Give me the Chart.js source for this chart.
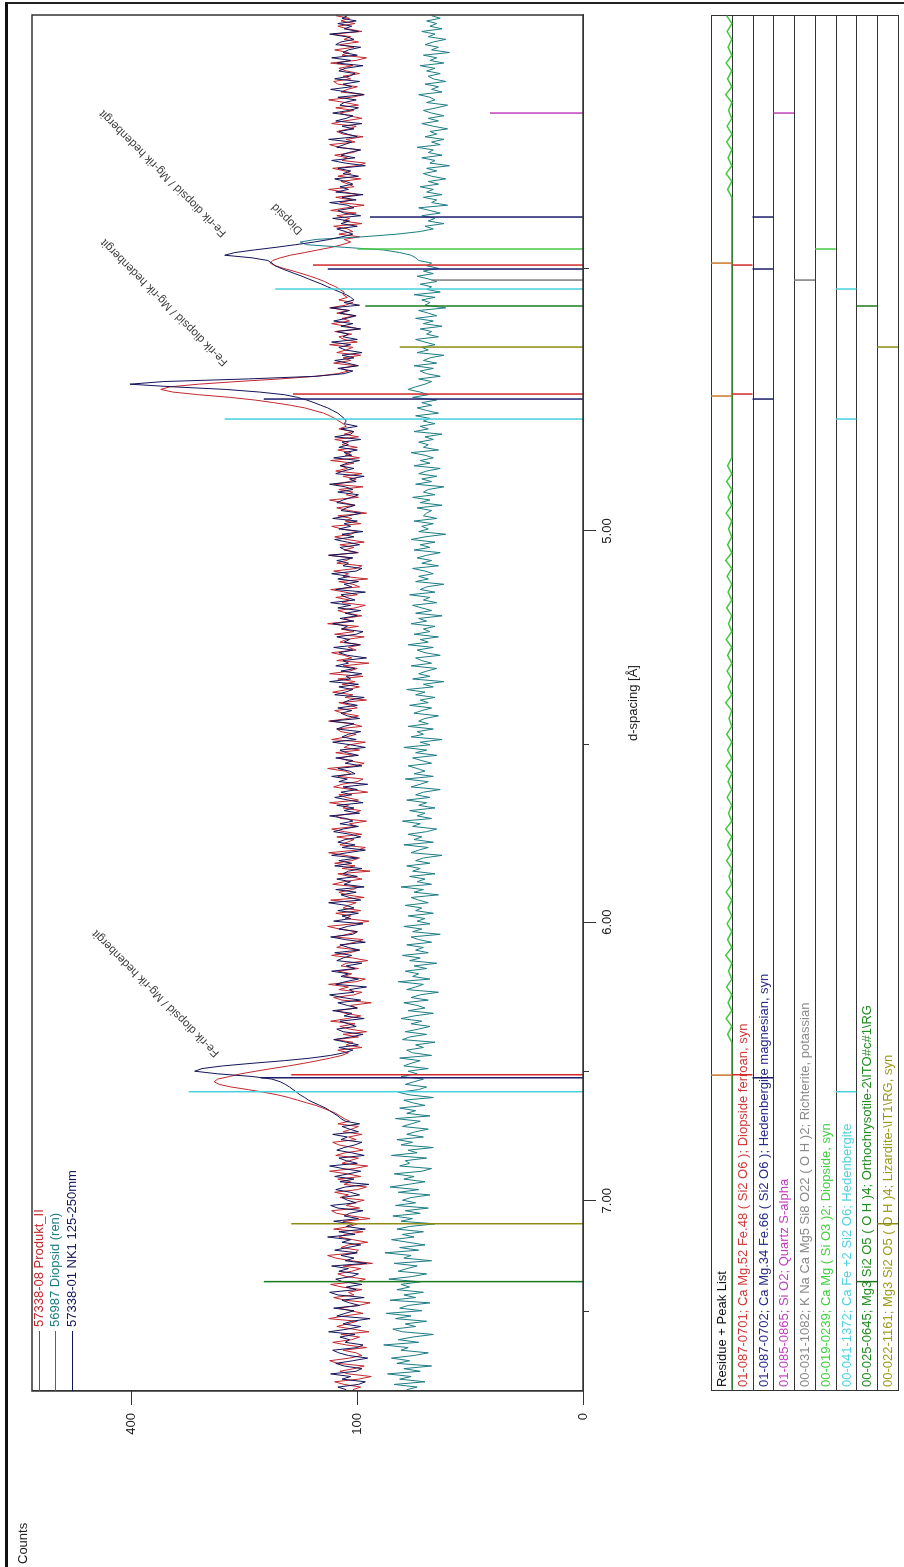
<!DOCTYPE html>
<html>
<head>
<meta charset="utf-8">
<title>XRD Diopsid</title>
<script src="https://cdn.jsdelivr.net/npm/chart.js@4.4.1/dist/chart.umd.min.js"></script>
<style>
  html, body { margin: 0; padding: 0; background: #fff; }
  body { width: 904px; height: 1567px; position: relative; overflow: hidden; }
  #frame { position: absolute; left: 5px; top: 2px; width: 940px; height: 1600px;
           border-left: 3px solid #111; border-top: 2px solid #222; }
  /* the whole plot is laid out landscape and then turned a quarter */
  #land { position: absolute; left: 0; top: 0; width: 1567px; height: 904px;
          transform-origin: 0 0; transform: translate(0, 1567px) rotate(-90deg); }
  #mainChart { position: absolute; left: 0; top: 0; }
  #peakChart { position: absolute; left: 0; top: 700px; }
</style>
</head>
<body>
<div id="frame"></div>
<div id="land">
  <canvas id="mainChart" width="1567" height="700"></canvas>
  <canvas id="peakChart" width="1567" height="204"></canvas>
</div>
<script>
// Cu K-alpha1, used to place the d-spacing ticks on the 2theta axis
const lambda = 1.5406;
const twoTheta = d => 2 * Math.asin(lambda / (2 * d)) * 180 / Math.PI;

const thetaMin = 11.19, thetaMax = 21.645;
const thetaStart = 11.20, thetaStep = 0.02;

const seriesNames = ['57338-08 Produkt_II', '56987 Diopsid (ren)', '57338-01 NK1 125-250mm'];
const seriesColors = ['#c0282e', '#1d7c84', '#14145a'];

const produktII = [
  104, 97, 112, 121, 99, 88, 108, 116, 103, 94, 118, 126, 107, 96, 101, 113, 92, 110, 123, 105,
  98, 115, 90, 104, 119, 109, 100, 127, 112, 95, 106, 117, 99, 89, 111, 122, 103, 108, 96, 114,
  125, 101, 93, 110, 118, 105, 97, 113, 87, 106, 120, 128, 102, 99, 115, 108, 91, 104, 117, 111,
  95, 122, 107, 100, 113, 89, 105, 119, 124, 98, 110, 103, 94, 116, 108, 121, 100, 92, 112, 106,
  118, 97, 109, 126, 103, 91, 114, 107, 99, 120, 111, 95, 104, 117, 123, 101, 108, 96, 113, 105,
  99, 118, 107, 112, 116, 120, 126, 133, 140, 150, 160, 170, 183, 200, 220, 243, 260, 267, 262, 245,
  230, 210, 190, 170, 153, 138, 125, 114, 108, 118, 96, 110, 104, 121, 99, 113, 92, 107, 116, 102,
  125, 109, 97, 111, 119, 100, 106, 88, 114, 122, 103, 96, 117, 108, 127, 101, 93, 112, 105, 118,
  99, 115, 110, 91, 104, 124, 107, 98, 119, 113, 102, 95, 121, 109, 100, 116, 128, 103, 90, 111,
  106, 120, 97, 113, 108, 101, 125, 94, 110, 117, 104, 99, 123, 112, 96, 107, 118, 89, 114, 102,
  121, 105, 98, 111, 127, 100, 93, 116, 109, 103, 119, 96, 112, 124, 101, 107, 92, 115, 120, 104,
  97, 113, 108, 126, 99, 110, 117, 91, 105, 122, 114, 100, 95, 118, 106, 111, 128, 102, 94, 109,
  116, 103, 120, 98, 112, 107, 93, 124, 110, 101, 115, 119, 96, 105, 127, 108, 99, 113, 121, 100,
  106, 117, 92, 111, 104, 123, 109, 98, 114, 102, 118, 95, 126, 107, 100, 113, 90, 119, 105, 112,
  124, 101, 108, 97, 116, 110, 94, 121, 103, 115, 99, 128, 106, 112, 96, 109, 118, 102, 93, 114,
  107, 120, 100, 111, 125, 98, 104, 117, 91, 113, 108, 122, 101, 96, 119, 110, 105, 127, 99, 112,
  103, 116, 94, 109, 121, 106, 100, 114, 124, 97, 111, 105, 118, 92, 108, 119, 102, 113, 126, 99,
  110, 104, 117, 95, 122, 107, 101, 113, 96, 120, 109, 115, 103, 125, 98, 111, 106, 118, 100, 114,
  108, 121, 99, 112, 104, 117, 110, 113, 117, 121, 126, 132, 142, 152, 168, 188, 212, 245, 290, 330,
  350, 335, 290, 235, 180, 140, 118, 108, 115, 101, 122, 106, 113, 97, 119, 110, 104, 126, 100, 112,
  117, 105, 121, 98, 110, 124, 107, 114, 102, 119, 108, 126, 111, 104, 117, 109, 113, 112, 116, 120,
  126, 131, 138, 146, 155, 165, 176, 186, 192, 189, 180, 168, 152, 138, 124, 114, 106, 112, 98, 117,
  104, 109, 122, 96, 113, 107, 119, 101, 125, 110, 94, 116, 105, 120, 99, 112, 127, 103, 108, 115,
  97, 118, 106, 111, 123, 100, 93, 114, 109, 121, 104, 98, 117, 126, 102, 110, 95, 113, 119, 107,
  101, 124, 112, 96, 108, 116, 103, 120, 99, 111, 127, 105, 94, 115, 109, 100, 118, 122, 106, 113,
  98, 110, 117, 104, 125, 101, 92, 114, 108, 121, 103, 116, 99, 112, 106, 123, 96, 109, 118, 102,
  115, 107, 120
];

const diopsidRen = [
  61, 54, 70, 49, 66, 58, 75, 52, 63, 45, 68, 59, 72, 56, 47, 65, 60, 78, 53, 67,
  57, 44, 64, 71, 55, 62, 48, 69, 58, 76, 51, 66, 60, 46, 73, 55, 63, 50, 68, 59,
  65, 52, 74, 57, 48, 67, 61, 54, 70, 45, 63, 58, 77, 53, 66, 49, 60, 72, 56, 64,
  50, 68, 59, 43, 65, 57, 71, 52, 62, 47, 69, 55, 64, 58, 46, 67, 53, 73, 60, 49,
  63, 56, 70, 51, 45, 66, 59, 62, 48, 72, 54, 60, 44, 65, 57, 68, 50, 61, 55, 47,
  64, 58, 52, 69, 46, 61, 55, 66, 49, 57, 63, 44, 59, 67, 53, 48, 62, 56, 50, 65,
  54, 60, 47, 63, 58, 52, 66, 45, 57, 61, 50, 55, 43, 64, 59, 48, 62, 53, 46, 58,
  51, 65, 56, 44, 60, 49, 54, 63, 47, 58, 52, 41, 61, 55, 50, 67, 46, 57, 53, 62,
  48, 56, 42, 59, 52, 64, 47, 55, 50, 61, 45, 53, 58, 40, 57, 51, 63, 46, 54, 49,
  60, 44, 55, 51, 62, 47, 53, 58, 41, 56, 50, 65, 45, 54, 49, 59, 43, 57, 52, 61,
  46, 55, 50, 39, 58, 53, 47, 63, 44, 56, 51, 60, 48, 42, 57, 52, 64, 45, 54, 49,
  59, 43, 53, 48, 61, 46, 55, 50, 40, 58, 52, 47, 62, 44, 56, 49, 54, 60, 45, 51,
  57, 42, 55, 48, 63, 46, 52, 39, 58, 50, 54, 44, 60, 47, 53, 49, 41, 56, 51, 45,
  59, 47, 52, 43, 55, 49, 61, 44, 50, 38, 57, 46, 53, 48, 42, 58, 45, 51, 55, 40,
  49, 54, 44, 60, 47, 52, 41, 56, 46, 50, 43, 58, 48, 53, 39, 55, 45, 51, 57, 42,
  50, 46, 59, 43, 52, 48, 38, 55, 47, 53, 44, 49, 57, 41, 51, 45, 54, 48, 40, 56,
  46, 52, 43, 58, 49, 37, 53, 47, 51, 44, 56, 42, 50, 48, 45, 54, 39, 52, 46, 57,
  43, 50, 47, 38, 55, 45, 51, 42, 53, 48, 40, 56, 46, 52, 44, 49, 58, 41, 50, 47,
  53, 44, 49, 39, 56, 47, 52, 43, 50, 46, 55, 41, 48, 54, 45, 51, 42, 57, 47, 52,
  60, 55, 49, 45, 53, 40, 48, 52, 44, 56, 42, 50, 46, 38, 54, 47, 51, 43, 49, 55,
  41, 48, 45, 52, 39, 50, 44, 55, 42, 47, 53, 37, 49, 46, 51, 43, 56, 40, 48, 45,
  52, 42, 47, 54, 44, 50, 41, 48, 45, 53, 55, 58, 66, 78, 112, 150, 157, 140, 95, 68,
  52, 44, 49, 38, 47, 43, 51, 40, 46, 53, 36, 45, 42, 50, 39, 48, 44, 52, 41, 47,
  37, 45, 50, 42, 48, 35, 46, 43, 51, 39, 47, 44, 54, 40, 45, 38, 49, 42, 46, 36,
  44, 51, 41, 47, 38, 45, 50, 42, 36, 48, 43, 46, 53, 39, 45, 41, 49, 37, 44, 47,
  40, 48, 43, 52, 38, 46, 42, 50, 35, 45, 41, 49, 44, 37, 47, 43, 51, 39, 46, 42,
  48, 40, 45
];

const nk1 = [
  110, 118, 99, 93, 114, 106, 125, 101, 96, 112, 120, 104, 91, 108, 117, 123, 100, 95, 111, 107,
  116, 102, 127, 109, 97, 113, 105, 89, 119, 111, 103, 122, 98, 107, 114, 94, 118, 126, 101, 110,
  96, 113, 120, 105, 99, 117, 108, 124, 92, 111, 103, 115, 100, 121, 109, 97, 114, 106, 128, 102,
  117, 93, 110, 104, 122, 99, 112, 107, 95, 118, 125, 101, 109, 114, 98, 106, 120, 111, 90, 116,
  103, 121, 108, 97, 113, 126, 100, 110, 117, 94, 105, 119, 112, 102, 96, 115, 109, 123, 99, 107,
  114, 98, 111, 115, 118, 122, 126, 130, 136, 142, 148, 152, 157, 161, 165, 169, 174, 180, 190, 215,
  262, 296, 285, 255, 215, 175, 145, 125, 112, 104, 117, 99, 110, 122, 106, 95, 113, 119, 101, 108,
  116, 94, 112, 105, 123, 100, 109, 118, 97, 114, 126, 103, 107, 92, 120, 111, 99, 115, 108, 124,
  102, 110, 96, 119, 113, 105, 121, 98, 108, 116, 93, 111, 125, 104, 100, 117, 109, 95, 122, 106,
  114, 99, 118, 103, 110, 127, 97, 107, 115, 101, 120, 94, 112, 106, 119, 100, 113, 108, 96, 121,
  105, 117, 100, 124, 109, 93, 114, 102, 118, 111, 97, 106, 122, 113, 99, 116, 104, 110, 126, 98,
  112, 103, 119, 95, 108, 121, 105, 115, 100, 113, 91, 117, 109, 124, 102, 107, 118, 96, 111, 104,
  120, 99, 110, 116, 93, 106, 123, 101, 114, 108, 97, 119, 112, 103, 125, 98, 109, 115, 105, 118,
  100, 113, 107, 94, 121, 111, 104, 117, 99, 126, 106, 110, 96, 115, 102, 120, 108, 113, 92, 109,
  117, 104, 122, 98, 112, 107, 119, 101, 95, 114, 109, 123, 103, 116, 100, 111, 97, 118, 106, 125,
  102, 110, 115, 93, 120, 105, 112, 99, 118, 107, 124, 101, 96, 113, 108, 119, 104, 127, 100, 111,
  116, 98, 109, 121, 103, 114, 95, 117, 106, 112, 100, 123, 108, 97, 115, 110, 102, 119, 113, 105,
  99, 118, 104, 111, 126, 101, 107, 94, 120, 113, 103, 116, 109, 98, 122, 105, 112, 100, 117, 108,
  114, 97, 121, 106, 103, 115, 100, 112, 110, 112, 115, 118, 123, 128, 135, 142, 150, 160, 175, 205,
  250, 330, 403, 345, 220, 140, 112, 104, 118, 99, 109, 121, 103, 114, 96, 111, 117, 106, 124, 100,
  113, 108, 119, 97, 115, 104, 122, 110, 101, 116, 107, 125, 98, 112, 103, 106, 110, 116, 122, 128,
  134, 141, 148, 155, 163, 171, 179, 186, 190, 195, 215, 252, 238, 212, 185, 162, 142, 126, 114, 104,
  111, 119, 100, 115, 107, 123, 97, 112, 118, 103, 109, 126, 101, 114, 95, 120, 108, 116, 104, 110,
  121, 99, 113, 106, 118, 93, 111, 124, 102, 115, 108, 97, 119, 112, 105, 127, 100, 109, 117, 103,
  114, 96, 120, 110, 104, 123, 107, 99, 116, 112, 101, 118, 94, 109, 125, 105, 113, 98, 121, 107,
  102, 117, 111, 95, 119, 106, 124, 100, 113, 108, 97, 120, 115, 103, 110, 126, 99, 112, 105, 118,
  101, 114, 109
];

const countTicks = [0, 100, 400];
const countMax = 596;
const dTicks = [7.5, 7.0, 6.5, 6.0, 5.5, 5.0, 4.5];
const dTickLabels = ['', '7.00', '', '6.00', '', '5.00', ''];

// reference patterns: label, colour, stick positions (2theta) and heights (counts)
const phaseNames = [
  '01-087-0701; Ca Mg.52 Fe.48 ( Si2 O6 ); Diopside ferroan, syn',
  '01-087-0702; Ca Mg.34 Fe.66 ( Si2 O6 ); Hedenbergite magnesian, syn',
  '01-085-0865; Si O2; Quartz S-alpha',
  '00-031-1082; K Na Ca Mg5 Si8 O22 ( O H )2; Richterite, potassian',
  '00-019-0239; Ca Mg ( Si O3 )2; Diopside, syn',
  '00-041-1372; Ca Fe +2 Si2 O6; Hedenbergite',
  '00-025-0645; Mg3 Si2 O5 ( O H )4; Orthochrysotile-2\\ITO#c#1\\RG',
  '00-022-1161; Mg3 Si2 O5 ( O H )4; Lizardite-\\IT1\\RG, syn'
];
const phaseColors = ['#d02a2a', '#1c1c6e', '#c040c0', '#7a7a7a', '#45c845', '#48d0dc', '#1f7a1f', '#8c8c14'];
const phaseTextColors = ['#d03a3a', '#2a2a8a', '#c23fc2', '#8a8a8a', '#3fcf3f', '#4fd3e0', '#228b22', '#9a9a1a'];
const phaseTheta = [
  [13.593, 18.765, 19.745],
  [13.570, 18.727, 19.715, 20.110],
  [20.900],
  [19.631],
  [19.867],
  [13.464, 18.575, 19.563],
  [12.021, 19.434],
  [12.461, 19.122]
];
const phaseHeight = [
  [167, 165, 143],
  [204, 200, 128, 89],
  [17],
  [45],
  [100],
  [305, 252, 186],
  [200, 93],
  [167, 66]
];

const peakListTheta = [13.59, 18.75, 19.76];
const peakListColor = '#c8782a';

const residueStart = 11.20, residueStep = 0.06;
const residue = [
  0, 0, 0, 0, 0, 0, 0, 0, 0, 0, 0, 0, 0, 0, 0, 0, 0, 0, 0, 0, 0, 0, 0, 0, 0,
  0, 0, 0, 0, 0, 0, 0, 0, 0, 0, 0, 0, 0, 0, 0, 0, 0, 0, 0, 0, 9, 0, 12, 0, 8,
  0, 11, 0, 7, 0, 13, 0, 9, 0, 10, 0, 8, 0, 12, 0, 6, 0, 11, 0, 9, 0, 13, 0, 7, 0,
  10, 0, 8, 0, 12, 0, 9, 0, 11, 0, 6, 0, 13, 0, 8, 0, 10, 0, 9, 0, 12, 0, 7, 0, 11,
  0, 8, 0, 10, 0, 13, 0, 9, 0, 7, 0, 12, 0, 8, 0, 11, 0, 9, 0, 0, 0, 0, 0, 0, 0,
  0, 0, 0, 0, 0, 0, 0, 0, 0, 0, 0, 0, 0, 0, 0, 0, 0, 0, 0, 0, 0, 0, 0, 0, 0,
  0, 0, 9, 0, 12, 0, 8, 0, 11, 0, 10, 0, 7, 0, 13, 0, 9, 0, 12, 0, 8, 0, 10, 0, 11
];

const annoText = [
  'Fe-rik diopsid / Mg-rik hedenbergit',
  'Fe-rik diopsid / Mg-rik hedenbergit',
  'Fe-rik diopsid / Mg-rik hedenbergit',
  'Diopsid'
];
const annoTheta = [13.76, 19.01, 19.99, 20.01];
const annoCounts = [259, 247, 249, 154];

const FONT = '"Liberation Sans", Arial, sans-serif';
Chart.defaults.font.family = FONT;

// square-root intensity axis
class SqrtScale extends Chart.LinearScale {
  static id = 'sqrt';
  static defaults = {};
  getPixelForValue(value) {
    const lo = Math.sqrt(this.min), hi = Math.sqrt(this.max);
    return this.getPixelForDecimal((Math.sqrt(Math.max(0, value)) - lo) / (hi - lo));
  }
  getValueForPixel(pixel) {
    const lo = Math.sqrt(this.min), hi = Math.sqrt(this.max);
    const s = lo + this.getDecimalForPixel(pixel) * (hi - lo);
    return s * s;
  }
}
Chart.register(SqrtScale);

const toXY = arr => arr.map((c, i) => ({ x: thetaStart + i * thetaStep, y: c }));

function stickData(thetas, heights) {
  const pts = [];
  thetas.forEach((t, k) => pts.push({ x: t, y: 0 }, { x: t, y: heights[k] }, { x: t, y: null }));
  return pts;
}

const curves = [produktII, diopsidRen, nk1];
const curveOrder = [3, 2, 1];

const datasets = [];
phaseTheta.forEach((th, p) => {
  datasets.push({
    data: stickData(th, phaseHeight[p]),
    borderColor: phaseColors[p], borderWidth: 1.5, spanGaps: false, order: 0
  });
});
curves.forEach((c, s) => {
  datasets.push({
    label: seriesNames[s], data: toXY(c),
    borderColor: seriesColors[s], borderWidth: 1, borderJoinStyle: 'round', order: curveOrder[s]
  });
});

const mainDecor = {
  id: 'mainDecor',
  afterDraw(chart) {
    const { ctx, chartArea: a, scales: { x, y } } = chart;
    ctx.save();
    ctx.strokeStyle = '#333';
    ctx.lineWidth = 1.5;
    ctx.strokeRect(a.left, a.top, a.right - a.left, a.bottom - a.top);

    // short unlabelled ticks
    ctx.lineWidth = 1;
    dTicks.forEach((d, i) => {
      if (dTickLabels[i]) return;
      const px = Math.round(x.getPixelForValue(twoTheta(d))) + 0.5;
      ctx.beginPath();
      ctx.moveTo(px, a.bottom);
      ctx.lineTo(px, a.bottom + 6);
      ctx.stroke();
    });

    // legend in the upper left corner of the plot
    ctx.font = '13px ' + FONT;
    ctx.textBaseline = 'middle';
    const rows = [a.top + 7, a.top + 23, a.top + 40];
    seriesNames.forEach((n, i) => {
      ctx.strokeStyle = seriesColors[i];
      ctx.beginPath();
      ctx.moveTo(a.left, rows[i] + 0.5);
      ctx.lineTo(a.left + 60, rows[i] + 0.5);
      ctx.stroke();
      ctx.fillStyle = seriesColors[i];
      ctx.fillText(n, a.left + 64, rows[i]);
    });

    // peak labels
    ctx.font = '11.5px ' + FONT;
    ctx.fillStyle = '#3a3a3a';
    ctx.textBaseline = 'alphabetic';
    annoText.forEach((t, i) => {
      ctx.save();
      ctx.translate(x.getPixelForValue(annoTheta[i]), y.getPixelForValue(annoCounts[i]));
      ctx.rotate(-Math.PI / 4);
      ctx.fillText(t, 0, 0);
      ctx.restore();
    });

    ctx.font = '13px ' + FONT;
    ctx.fillStyle = '#222';
    ctx.textBaseline = 'middle';
    ctx.fillText('Counts', 3, 23);
    ctx.restore();
  }
};

new Chart(document.getElementById('mainChart'), {
  type: 'line',
  data: { datasets },
  options: {
    responsive: false,
    animation: false,
    events: [],
    layout: { padding: { left: 0, right: 15, top: 32, bottom: 0 } },
    elements: { point: { radius: 0 }, line: { tension: 0 } },
    plugins: { legend: { display: false }, tooltip: { enabled: false } },
    scales: {
      x: {
        type: 'linear', min: thetaMin, max: thetaMax,
        afterBuildTicks: s => { s.ticks = dTicks.map(d => ({ value: twoTheta(d) })); },
        afterFit: s => { s.height = 117; },
        ticks: {
          autoSkip: false, maxRotation: 0, minRotation: 0, padding: 4,
          color: '#222', font: { size: 13 },
          callback: (v, i) => dTickLabels[i]
        },
        grid: {
          drawOnChartArea: false, tickLength: 13, tickWidth: 1,
          tickColor: c => dTickLabels[c.index] ? '#333' : 'rgba(0,0,0,0)'
        },
        border: { color: '#333', width: 1 },
        title: { display: true, text: 'd-spacing [Å]', color: '#222', font: { size: 13 }, padding: { top: 0, bottom: 59 } }
      },
      y: {
        type: 'sqrt', min: 0, max: countMax,
        afterBuildTicks: s => { s.ticks = countTicks.map(v => ({ value: v })); },
        afterFit: s => { s.width = 176; },
        ticks: { padding: 8, color: '#222', font: { size: 13 }, callback: v => String(v) },
        grid: { drawOnChartArea: false, tickLength: 14, tickColor: '#333' },
        border: { color: '#333', width: 1 }
      }
    }
  },
  plugins: [mainDecor]
});

// ---- Residue + Peak List table ----
const rowTexts = ['Residue + Peak List'].concat(phaseNames);
const rowColors = ['#111'].concat(phaseTextColors);

const tableSets = [];
tableSets.push({
  data: residue.map((r, i) => ({ x: residueStart + i * residueStep, y: 1 - r / 45 })),
  borderColor: '#3ccc3c', borderWidth: 1.5, order: 1
});
const markData = (thetas, row) => {
  const pts = [];
  thetas.forEach(t => pts.push({ x: t, y: row }, { x: t, y: row + 1 }, { x: t, y: null }));
  return pts;
};
tableSets.push({ data: markData(peakListTheta, 0), borderColor: peakListColor, borderWidth: 1.5, spanGaps: false, order: 0 });
phaseTheta.forEach((th, p) => {
  tableSets.push({ data: markData(th, p + 1), borderColor: phaseColors[p], borderWidth: 1.5, spanGaps: false, order: 0 });
});

const tableDecor = {
  id: 'tableDecor',
  beforeDatasetsDraw(chart) {
    const { ctx, chartArea: a, scales: { y } } = chart;
    ctx.save();
    ctx.strokeStyle = '#333';
    ctx.lineWidth = 1;
    for (let r = 0; r <= rowTexts.length; r++) {
      const py = Math.round(y.getPixelForValue(r)) + 0.5;
      ctx.beginPath();
      ctx.moveTo(a.left, py);
      ctx.lineTo(a.right, py);
      ctx.stroke();
    }
    ctx.beginPath();
    ctx.moveTo(a.left + 0.5, a.top);
    ctx.lineTo(a.left + 0.5, a.bottom);
    ctx.moveTo(a.right - 0.5, a.top);
    ctx.lineTo(a.right - 0.5, a.bottom);
    ctx.stroke();

    ctx.font = '13px ' + FONT;
    ctx.textBaseline = 'middle';
    rowTexts.forEach((t, r) => {
      ctx.fillStyle = rowColors[r];
      ctx.fillText(t, a.left + 4, y.getPixelForValue(r + 0.5) + 1);
    });
    ctx.restore();
  }
};

new Chart(document.getElementById('peakChart'), {
  type: 'line',
  data: { datasets: tableSets },
  options: {
    responsive: false,
    animation: false,
    events: [],
    layout: { padding: { left: 176, right: 15, top: 11, bottom: 6 } },
    elements: { point: { radius: 0 }, line: { tension: 0 } },
    plugins: { legend: { display: false }, tooltip: { enabled: false } },
    scales: {
      x: { type: 'linear', min: thetaMin, max: thetaMax, display: false },
      y: { type: 'linear', min: 0, max: rowTexts.length, reverse: true, display: false }
    }
  },
  plugins: [tableDecor]
});
</script>
</body>
</html>
